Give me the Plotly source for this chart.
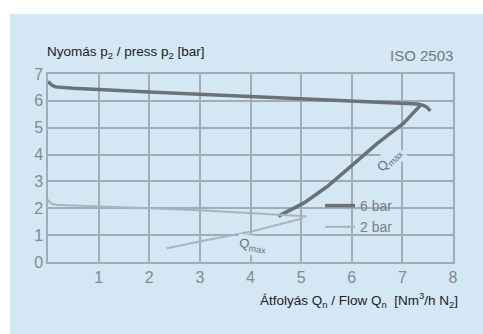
import plotly.graph_objects as go

# 6 bar curve: regulation line, then flow (Q max) line
x6_top = [0, 0.03, 0.08, 0.15, 0.3, 0.5, 2, 4, 6, 7, 7.3, 7.4, 7.47, 7.52, 7.55]
y6_top = [6.72, 6.66, 6.58, 6.52, 6.49, 6.47, 6.33, 6.16, 6.0, 5.91, 5.88, 5.84, 5.78, 5.70, 5.62]
x6_q = [7.36, 7.2, 7.02, 6.76, 6.50, 5.97, 5.51, 5.05, 4.55]
y6_q = [5.84, 5.5, 5.16, 4.79, 4.41, 3.54, 2.80, 2.19, 1.71]

# 2 bar curve
x2_top = [0, 0.03, 0.08, 0.15, 0.5, 1, 2, 3, 4, 4.5, 5.08, 5.1]
y2_top = [2.32, 2.24, 2.17, 2.13, 2.1, 2.06, 2.0, 1.93, 1.82, 1.77, 1.70, 1.67]
x2_q = [5.04, 4.65, 4.0, 3.14, 2.35]
y2_q = [1.63, 1.44, 1.13, 0.82, 0.51]

x_ticks = [1, 2, 3, 4, 5, 6, 7, 8]
y_ticks = [0, 1, 2, 3, 4, 5, 6, 7]

BLUE = "#d3e7f5"
GRID = "#a2acb3"
DARK = "#6b7277"
LIGHT = "#a9b5bd"
TICK = "#858a8e"
FONT = "Liberation Sans, Arial, sans-serif"

fig = go.Figure()
fig.add_trace(go.Scatter(
    x=x6_top + [None] + x6_q, y=y6_top + [None] + y6_q,
    mode="lines", name="6 bar",
    line=dict(color=DARK, width=3.5),
    connectgaps=False))
fig.add_trace(go.Scatter(
    x=x2_top + [None] + x2_q, y=y2_top + [None] + y2_q,
    mode="lines", name="2 bar",
    line=dict(color=LIGHT, width=2),
    connectgaps=False))

L, R, T, B = 48, 30, 74, 72
W, H = 483, 334
pw, ph = W - L - R, H - T - B

def px(xp):
    return (xp - L) / pw

def py(yp):
    return (H - B - yp) / ph

fig.add_shape(type="rect", xref="paper", yref="paper",
              x0=px(10), x1=px(490), y0=py(340), y1=py(14),
              fillcolor=BLUE, line=dict(width=0), layer="below")
# blank patch behind the legend (hides grid lines, stays under the curves)
fig.add_shape(type="rect", xref="paper", yref="paper",
              x0=px(314), x1=px(412), y0=py(236), y1=py(190),
              fillcolor=BLUE, line=dict(width=0), layer="between")

fig.add_annotation(xref="paper", yref="paper", x=px(45), y=py(52),
                   xanchor="left", yanchor="middle", showarrow=False,
                   text="Nyomás p<sub>2</sub> / press p<sub>2</sub> [bar]",
                   font=dict(family=FONT, size=13.5, color="#222222"))
fig.add_annotation(xref="paper", yref="paper", x=px(455), y=py(55),
                   xanchor="right", yanchor="middle", showarrow=False,
                   text="ISO 2503",
                   font=dict(family=FONT, size=15, color="#74797d"))
fig.add_annotation(xref="paper", yref="paper", x=px(460), y=py(300),
                   xanchor="right", yanchor="middle", showarrow=False,
                   text="Átfolyás Q<sub>n</sub> / Flow Q<sub>n</sub>&nbsp;&nbsp;[Nm<sup>3</sup>/h N<sub>2</sub>]",
                   font=dict(family=FONT, size=13.5, color="#222222"))

fig.add_annotation(x=6.76, y=3.8, text="Q<sub>max</sub>", showarrow=False,
                   textangle=-45, bgcolor=BLUE,
                   font=dict(family=FONT, size=13, color=DARK))
fig.add_annotation(x=4.05, y=0.6, text="Q<sub>max</sub>", showarrow=False,
                   textangle=8, bgcolor=BLUE,
                   font=dict(family=FONT, size=13, color=DARK))

axis_common = dict(showgrid=True, gridcolor=GRID, gridwidth=1.5,
                   showline=True, linecolor=GRID, linewidth=1.5, mirror=True,
                   zeroline=False, ticks="",
                   tickfont=dict(family=FONT, size=16, color=TICK))

fig.update_xaxes(range=[0, 8], tickvals=x_ticks, ticktext=[str(v) for v in x_ticks],
                 ticklabelstandoff=0, **axis_common)
fig.update_yaxes(range=[0, 7], tickvals=y_ticks, ticktext=[str(v) for v in y_ticks],
                 **axis_common)

fig.update_layout(
    width=W, height=H,
    margin=dict(l=L, r=R, t=T, b=B, pad=0),
    paper_bgcolor="white", plot_bgcolor=BLUE,
    showlegend=True,
    legend=dict(x=px(320), y=py(190), xanchor="left", yanchor="top",
                bgcolor="rgba(0,0,0,0)", itemwidth=30, tracegroupgap=0,
                font=dict(family=FONT, size=14, color="#7a7f83")),
)

fig.write_html("out.html", config={"displayModeBar": False},
               post_script="document.body.style.margin='0';")
